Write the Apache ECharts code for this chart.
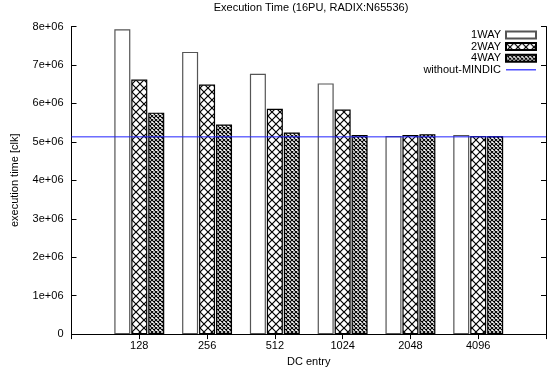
<!DOCTYPE html>
<html>
<head>
<meta charset="utf-8">
<script src="https://cdn.jsdelivr.net/npm/echarts@6/dist/echarts.min.js"></script>
<style>
html,body{margin:0;padding:0;background:#fff;}
#chart{width:549px;height:372px;}
</style>
</head>
<body>
<div id="chart"></div>
<script>
// ---- data ----
const categories = ['128', '256', '512', '1024', '2048', '4096'];
const oneWay  = [7.93e6, 7.34e6, 6.77e6, 6.52e6, 5.15e6, 5.18e6];
const twoWay  = [6.62e6, 6.49e6, 5.86e6, 5.84e6, 5.18e6, 5.15e6];
const fourWay = [5.76e6, 5.45e6, 5.24e6, 5.18e6, 5.20e6, 5.15e6];
const withoutMindic = 5.13e6;
const yTicks = { min: 0, max: 8e6, interval: 1e6 };
const titleText = 'Execution Time (16PU, RADIX:N65536)';

const FONT = '"Liberation Sans", Arial, Helvetica, sans-serif';

function makePattern(size, lw, draw) {
  const c = document.createElement('canvas');
  c.width = size; c.height = size;
  const ctx = c.getContext('2d');
  ctx.fillStyle = '#fff';
  ctx.fillRect(0, 0, size, size);
  ctx.strokeStyle = '#000';
  ctx.lineWidth = lw;
  draw(ctx, size);
  return { image: c, repeat: 'repeat' };
}
function crossHatch(ctx, s) {
  ctx.beginPath();
  ctx.moveTo(-1, -1); ctx.lineTo(s + 1, s + 1);
  ctx.moveTo(s + 1, -1); ctx.lineTo(-1, s + 1);
  ctx.stroke();
}
const patternTwo = makePattern(8, 1.2, crossHatch);
const patternFour = makePattern(4, 1.1, crossHatch);

// pad categories so the gnuplot-like x range (-1 .. 6) is reproduced
const xCats = [''].concat(categories, ['']);
const pad = arr => ['-'].concat(arr, ['-']);

const chart = echarts.init(document.getElementById('chart'), null, { renderer: 'canvas' });

const axisLine = { show: true, lineStyle: { color: '#000', width: 1 } };
const tick = { show: true, inside: true, length: 5, lineStyle: { color: '#000', width: 1 } };

const option = {
  animation: false,
  backgroundColor: '#fff',
  textStyle: { fontFamily: FONT },
  graphic: [{
    type: 'text', x: 311, y: 8,
    style: { text: titleText, fill: '#000', font: '11px ' + FONT, textAlign: 'center', textVerticalAlign: 'middle' }
  }],
  grid: { left: 71.5, right: -2, top: 26.5, bottom: 36, containLabel: false },
  legend: {
    orient: 'vertical', align: 'right', right: 12, top: 29.5, padding: 0,
    itemWidth: 30, itemHeight: 7, itemGap: 0.6,
    textStyle: { fontSize: 11, color: '#000', fontFamily: FONT, lineHeight: 11 },
    data: [
      { name: '1WAY', icon: 'rect' },
      { name: '2WAY', icon: 'rect' },
      { name: '4WAY', icon: 'rect' },
      { name: 'without-MINDIC', icon: 'path://M0,0H30V1.2H0Z' }
    ]
  },
  xAxis: [
    {
      type: 'category', data: xCats, boundaryGap: false, position: 'bottom',
      axisLine: axisLine, axisTick: tick,
      axisLabel: { color: '#000', fontSize: 11, margin: 6, fontFamily: FONT, interval: 0 },
      name: 'DC entry', nameLocation: 'middle', nameGap: 21,
      nameTextStyle: { color: '#000', fontSize: 11, fontFamily: FONT },
      splitLine: { show: false }
    },
    {
      type: 'category', data: xCats, boundaryGap: false, position: 'top',
      axisLine: axisLine, axisTick: tick, axisLabel: { show: false }, splitLine: { show: false }
    },
    { type: 'value', min: 0, max: 1, show: false }
  ],
  yAxis: [
    {
      type: 'value', min: yTicks.min, max: yTicks.max, interval: yTicks.interval, position: 'left',
      axisLine: axisLine, axisTick: tick,
      axisLabel: {
        color: '#000', fontSize: 11, margin: 8, fontFamily: FONT,
        formatter: v => v === 0 ? '0' : (v / 1e6) + 'e+06'
      },
      name: 'execution time [clk]', nameLocation: 'middle', nameGap: 51, nameRotate: 90,
      nameTextStyle: { color: '#000', fontSize: 11, fontFamily: FONT },
      splitLine: { show: false }
    },
    {
      type: 'value', min: yTicks.min, max: yTicks.max, interval: yTicks.interval, position: 'right',
      axisLine: axisLine, axisTick: tick, axisLabel: { show: false }, splitLine: { show: false }
    }
  ],
  series: [
    {
      name: '1WAY', type: 'bar', xAxisIndex: 0, yAxisIndex: 0, data: pad(oneWay),
      barWidth: 16, barGap: '6%',
      itemStyle: { color: '#fff', borderColor: '#555', borderWidth: 1.2 }
    },
    {
      name: '2WAY', type: 'bar', xAxisIndex: 0, yAxisIndex: 0, data: pad(twoWay),
      barWidth: 16, barGap: '6%',
      itemStyle: { color: patternTwo, borderColor: '#000', borderWidth: 1.2 }
    },
    {
      name: '4WAY', type: 'bar', xAxisIndex: 0, yAxisIndex: 0, data: pad(fourWay),
      barWidth: 16, barGap: '6%',
      itemStyle: { color: patternFour, borderColor: '#000', borderWidth: 1.2 }
    },
    {
      name: 'without-MINDIC', type: 'line', xAxisIndex: 2, yAxisIndex: 0,
      data: [[0, withoutMindic], [1, withoutMindic]],
      symbol: 'none', silent: true, z: 5,
      lineStyle: { color: '#2222ff', width: 1 },
      itemStyle: { color: '#2222ff' }
    }
  ]
};
chart.setOption(option);
</script>
</body>
</html>
